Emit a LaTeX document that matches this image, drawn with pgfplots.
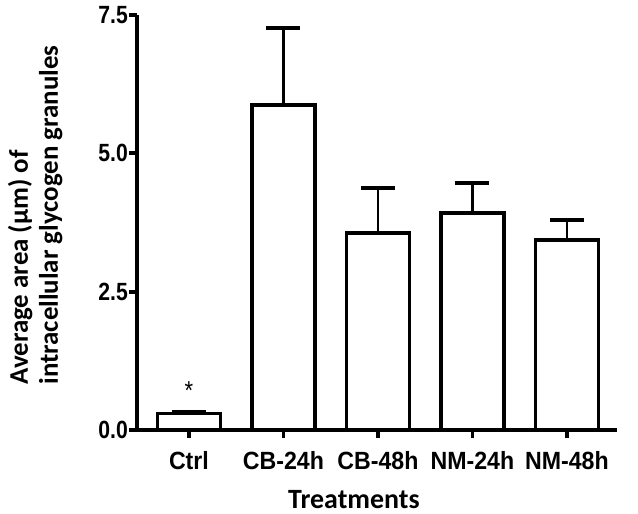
\documentclass[border=0pt]{standalone}
\usepackage{fontspec}
\setmainfont{Carlito}
\newfontfamily\narrowfont[FakeStretch=0.85]{Liberation Sans}
\newfontfamily\xnarrowfont[FakeStretch=0.93]{Liberation Sans}
\usepackage{pgfplots}
\pgfplotsset{compat=1.18}
\begin{document}
\begin{tikzpicture}
\begin{axis}[
  scale only axis,
  width=480bp, height=415bp,
  axis lines*=left,
  axis line style={line width=4.6bp},
  xmin=-0.55, xmax=4.53,
  ymin=0, ymax=7.5,
  ytick={0,2.5,5,7.5},
  xtick={0,1,2,3,4},
  xticklabels={Ctrl,CB-24h,CB-48h,NM-24h,NM-48h},
  tick style={line width=3.8bp, black},
  tick align=outside,
  major tick length=8bp,
  /pgf/number format/assume math mode=true,
  yticklabel style={font=\narrowfont\bfseries\fontsize{25}{27}\selectfont, inner sep=1bp, /pgf/number format/.cd, fixed, fixed zerofill, precision=1},
  xticklabel style={font=\xnarrowfont\bfseries\fontsize{25}{27}\selectfont, anchor=base, yshift=-31bp},
  xlabel={\textbf{Treatments}},
  xlabel style={font=\fontsize{28}{30}\selectfont, at={(axis description cs:0.452,0)}, anchor=base, yshift=-78bp},
  ylabel={\textbf{Average area (µm) of}\\\textbf{intracellular glycogen granules}},
  ylabel style={font=\fontsize{27}{30}\selectfont, align=left, at={(axis description cs:-0.148,0.518)}, anchor=south},
  clip=false,
]
\addplot[
  ybar, bar width=0.667, fill=white, draw=black, line width=3.8bp,
  error bars/.cd, y dir=plus, y explicit,
  error bar style={line width=2.8bp, black},
  error mark options={rotate=90, mark size=17bp, line width=3.8bp, black},
] table[x=x, y=y, y error=e] {
x y e
0 0.30 0.03
1 5.87 1.40
2 3.56 0.81
3 3.92 0.54
4 3.43 0.37
};
\node[font=\narrowfont\fontsize{26}{28}\selectfont] at (axis cs:0,0.72) {*};
\coordinate (O) at (rel axis cs:0,0);
\end{axis}
\pgfresetboundingbox
\path (O) ++(-137bp,-84bp) rectangle ++(638bp,514bp);
\end{tikzpicture}
\end{document}
